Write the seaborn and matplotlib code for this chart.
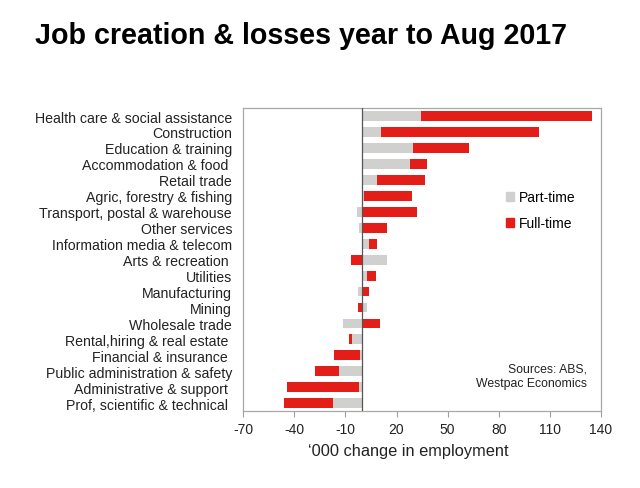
import matplotlib
matplotlib.use("Agg")
import matplotlib.pyplot as plt
import seaborn as sns
import pandas as pd
import numpy as np
from matplotlib.patches import Patch

categories = [
    "Health care & social assistance", "Construction", "Education & training",
    "Accommodation & food ", "Retail trade", "Agric, forestry & fishing",
    "Transport, postal & warehouse", "Other services", "Information media & telecom",
    "Arts & recreation ", "Utilities", "Manufacturing", "Mining", "Wholesale trade",
    "Rental,hiring & real estate ", "Financial & insurance ",
    "Public administration & safety", "Administrative & support ",
    "Prof, scientific & technical ",
]
part_time = [34.4, 11.1, 29.5, 28.2, 8.4, 0.8, -3.4, -2.0, 3.7, 14.7,
             2.7, -2.8, 2.9, -11.6, -6.1, -1.4, -13.7, -1.8, -17.5]
full_time = [100.3, 92.8, 32.9, 9.8, 28.6, 28.3, 32.1, 14.5, 4.9, -6.7,
             5.1, 4.1, -2.4, 10.1, -2.0, -15.5, -14.3, -42.3, -28.4]
x_ticks = [-70, -40, -10, 20, 50, 80, 110, 140]

pt = np.array(part_time)
ft = np.array(full_time)
# stacked end of full-time bar: adds on top of part-time when same sign
ft_end = np.where(np.sign(pt) == np.sign(ft), pt + ft, ft)

df = pd.DataFrame({"cat": categories, "pt": pt, "ft_end": ft_end})

GREY = "#d0d0ce"
RED = "#e31e18"

plt.rcParams["font.family"] = ["Liberation Sans", "DejaVu Sans"]
fig = plt.figure(figsize=(6.4, 4.89), dpi=100)
ax = fig.add_axes([0.380, 0.157, 0.559, 0.620])

sns.barplot(data=df, y="cat", x="ft_end", color=RED, width=0.62, ax=ax,
            orient="h", zorder=2, linewidth=0, saturation=1)
sns.barplot(data=df, y="cat", x="pt", color=GREY, width=0.62, ax=ax,
            orient="h", zorder=3, linewidth=0, saturation=1)

ax.axvline(0, color="#555555", lw=0.9, zorder=4)
ax.set_xlim(-70, 140)
ax.set_xticks(x_ticks)
ax.set_xticklabels([str(t) for t in x_ticks], fontsize=10, color="#222222")
ax.tick_params(axis="x", direction="out", length=4, color="#a0a0a0", pad=4)
ax.tick_params(axis="y", length=0, pad=8, labelsize=10.2, labelcolor="#222222")
ax.set_ylabel("")
ax.set_xlabel("\u2018000 change in employment", fontsize=11.8, color="#222222")
ax.xaxis.set_label_coords(0.462, -0.106)
for s in ax.spines.values():
    s.set_color("#a8a8a8")
    s.set_linewidth(0.9)
ax.grid(False)

handles = [Patch(color=GREY, label="Part-time"), Patch(color=RED, label="Full-time")]
ax.legend(handles=handles, loc="upper left", bbox_to_anchor=(0.70, 0.77), frameon=False,
          fontsize=10, handlelength=0.6, handleheight=0.6, handletextpad=0.35,
          labelspacing=0.85)

ax.text(0.961, 0.117, "Sources: ABS,\nWestpac Economics", transform=ax.transAxes,
        ha="right", va="center", fontsize=8.8, color="#222222", linespacing=1.3)

fig.text(0.055, 0.926, "Job creation & losses year to Aug 2017", fontsize=20.6,
         fontweight="bold", ha="left", va="center", color="black")

fig.savefig("out.png", dpi=100)
